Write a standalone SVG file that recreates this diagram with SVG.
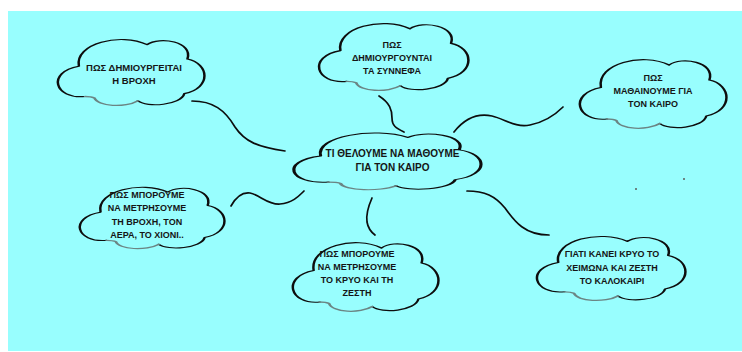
<svg xmlns="http://www.w3.org/2000/svg" width="742" height="352" viewBox="0 0 742 352">
<style>
.bg{fill:#98fefe}
.cl{fill:none;stroke:#0d0d0d;stroke-width:1.6;vector-effect:non-scaling-stroke;stroke-linejoin:round;stroke-linecap:round}
.sh{fill:none;stroke:#6b8584;stroke-width:1.8;vector-effect:non-scaling-stroke;stroke-linecap:round}
.t{font-family:"Liberation Sans",Arial,sans-serif;font-weight:bold;font-size:9px;fill:#151515;text-anchor:middle}
.conn path{fill:none;stroke:#0d0d0d;stroke-width:1.7;stroke-linecap:round}
</style>
<defs>
<path id="cb" d="M22,84 C2,88 -3,50 18,42 C15,10 45,-5 62,12 C70,0 92,8 88,32 C102,38 104,72 86,80 C84,96 62,100 56,90"/>
<path id="cs" d="M56,90 C48,100 30,98 28,86 C26,84 24,84 22,84"/>
</defs>
<rect class="bg" x="8" y="11" width="734" height="340"/>
<rect x="683" y="178" width="2" height="2" fill="#6b8584"/>
<rect x="635" y="188" width="2" height="2" fill="#6b8584"/>
<g class="conn" id="connectors">
<path d="M192,101 C213,101 225,110 235,127 C245,142 258,147 285,151"/>
<path d="M379,96 C390,103 392,110 392,118 C392,126 396,128 404,132"/>
<path d="M454,132 C465,118 478,113 492,116 C505,119 515,128 530,125 C545,122 555,115 563,107"/>
<path d="M231,206 C236,197 242,192 250,193 C260,195 268,205 280,204 C292,203 298,197 304,191"/>
<path d="M372,198 C368,207 366,215 367,222 C368,228 371,232 375,235"/>
<path d="M467,191 C485,191 495,196 505,208 C515,222 525,235 549,235"/>
</g>
<g id="rain">
<g transform="translate(51,36) scale(1.55,0.72)"><use href="#cb" class="cl"/><use href="#cs" class="sh"/></g>
<text class="t" x="134" y="70.5" style="font-size:9.5px">ΠΩΣ ΔΗΜΙΟΥΡΓΕΙΤΑΙ</text>
<text class="t" x="134" y="84" style="font-size:9.5px">Η ΒΡΟΧΗ</text>
</g>
<g id="clouds">
<g transform="translate(312,20) scale(1.58,0.73)"><use href="#cb" class="cl"/><use href="#cs" class="sh"/></g>
<text class="t" x="392" y="48">ΠΩΣ</text>
<text class="t" x="392" y="61">ΔΗΜΙΟΥΡΓΟΥΝΤΑΙ</text>
<text class="t" x="392" y="74">ΤΑ ΣΥΝΝΕΦΑ</text>
</g>
<g id="learn">
<g transform="translate(573,56) scale(1.55,0.75)"><use href="#cb" class="cl"/><use href="#cs" class="sh"/></g>
<text class="t" x="653" y="81">ΠΩΣ</text>
<text class="t" x="653" y="94">ΜΑΘΑΙΝΟΥΜΕ ΓΙΑ</text>
<text class="t" x="653" y="107">ΤΟΝ ΚΑΙΡΟ</text>
</g>
<g id="center">
<g transform="translate(285,130) scale(1.98,0.62)"><use href="#cb" class="cl"/><use href="#cs" class="sh"/></g>
<text class="t" x="392.5" y="157" style="font-size:10px">ΤΙ ΘΕΛΟΥΜΕ ΝΑ ΜΑΘΟΥΜΕ</text>
<text class="t" x="392.5" y="170.5" style="font-size:10px">ΓΙΑ ΤΟΝ ΚΑΙΡΟ</text>
</g>
<g id="measure-rain">
<g transform="translate(73,184) scale(1.53,0.67)"><use href="#cb" class="cl"/><use href="#cs" class="sh"/></g>
<text class="t" x="147" y="197.5">ΠΩΣ ΜΠΟΡΟΥΜΕ</text>
<text class="t" x="147" y="211">ΝΑ ΜΕΤΡΗΣΟΥΜΕ</text>
<text class="t" x="147" y="225">ΤΗ ΒΡΟΧΗ, ΤΟΝ</text>
<text class="t" x="147" y="238">ΑΕΡΑ, ΤΟ ΧΙΟΝΙ..</text>
</g>
<g id="measure-cold">
<g transform="translate(286,239) scale(1.54,0.75)"><use href="#cb" class="cl"/><use href="#cs" class="sh"/></g>
<text class="t" x="357" y="256.5">ΠΩΣ ΜΠΟΡΟΥΜΕ</text>
<text class="t" x="357" y="269.5">ΝΑ ΜΕΤΡΗΣΟΥΜΕ</text>
<text class="t" x="357" y="283">ΤΟ ΚΡΥΟ ΚΑΙ ΤΗ</text>
<text class="t" x="357" y="296">ΖΕΣΤΗ</text>
</g>
<g id="why-cold">
<g transform="translate(530,233) scale(1.57,0.70)"><use href="#cb" class="cl"/><use href="#cs" class="sh"/></g>
<text class="t" x="612" y="257">ΓΙΑΤΙ ΚΑΝΕΙ ΚΡΥΟ ΤΟ</text>
<text class="t" x="612" y="270.5">ΧΕΙΜΩΝΑ ΚΑΙ ΖΕΣΤΗ</text>
<text class="t" x="612" y="284">ΤΟ ΚΑΛΟΚΑΙΡΙ</text>
</g>
</svg>
